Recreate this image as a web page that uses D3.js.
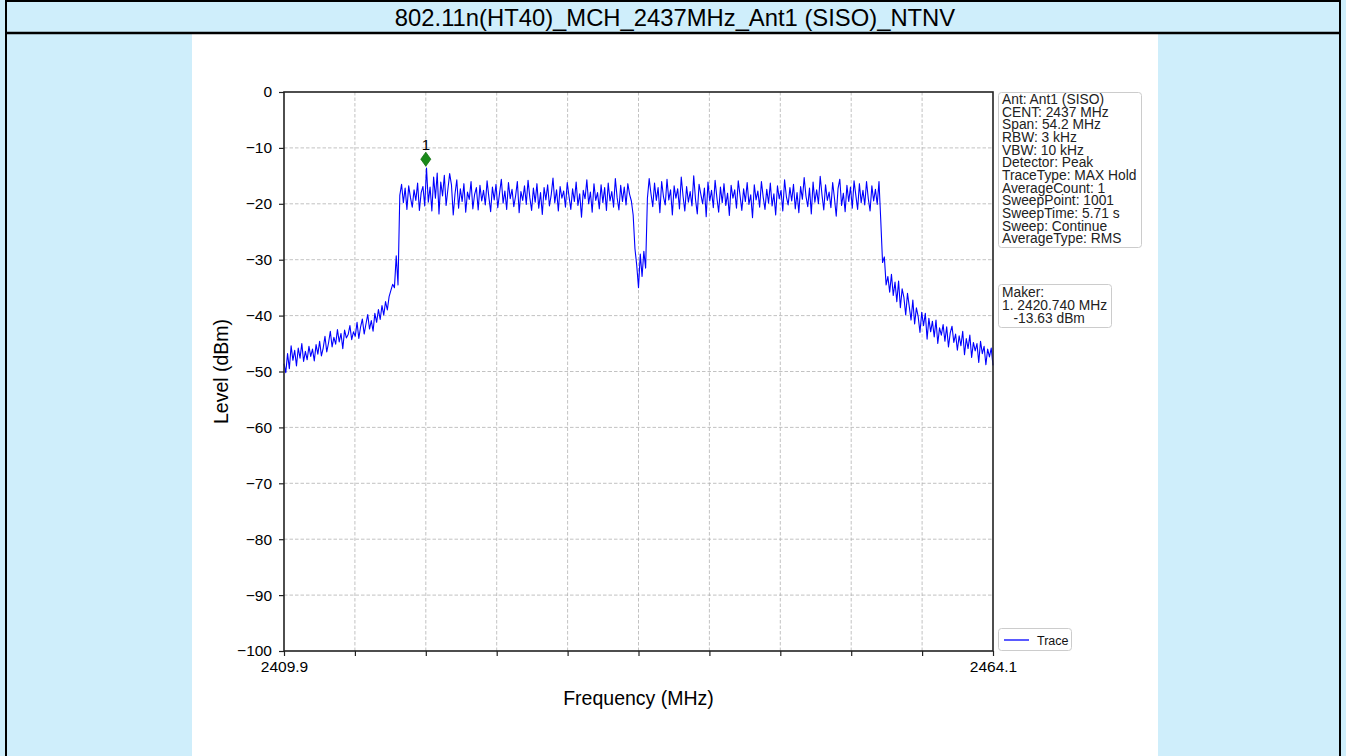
<!DOCTYPE html>
<html>
<head>
<meta charset="utf-8">
<script src="https://cdn.jsdelivr.net/npm/d3@7"></script>
<style>
  html, body { margin: 0; padding: 0; background: #cfeefb; }
  svg { display: block; }
  text { font-family: "Liberation Sans", Arial, sans-serif; }
</style>
</head>
<body>
<svg id="chart" width="1346" height="756"></svg>
<script>
// ---------- data ----------
const chartTitle = "802.11n(HT40)_MCH_2437MHz_Ant1 (SISO)_NTNV";
const freqStart = 2409.9;
const freqStop = 2464.1;
const xTickLabels = ["2409.9", "", "", "", "", "", "", "", "", "", "2464.1"];
const yTicks = [-100, -90, -80, -70, -60, -50, -40, -30, -20, -10, 0];
const infoLines = [
  "Ant: Ant1 (SISO)", "CENT: 2437 MHz", "Span: 54.2 MHz", "RBW: 3 kHz",
  "VBW: 10 kHz", "Detector: Peak", "TraceType: MAX Hold", "AverageCount: 1",
  "SweepPoint: 1001", "SweepTime: 5.71 s", "Sweep: Continue", "AverageType: RMS"
];
const markerLines = ["Maker:", "1. 2420.740 MHz", "   -13.63 dBm"];
const markerFreq = [2420.740];
const markerLevel = [-13.63];
const markerNames = ["1"];
const seriesName = "Trace";
// trace levels (dBm), evenly spaced across the sweep span
const traceLevels = [
  // left skirt
  -48.6, -50.2, -46.8, -49.5, -45.4, -48.0, -46.2, -49.0, -45.8, -47.6, -45.0, -48.2, -46.4, -47.9, -45.5, -47.3, -46.0, -48.1, -45.2, -46.9,
  -44.6, -47.2, -45.8, -43.7, -46.5, -44.9, -42.8, -45.6, -43.9, -45.1, -42.5, -44.7, -43.2, -45.9, -42.6, -44.0, -43.4, -41.8, -44.3, -42.9,
  -43.7, -41.2, -44.1, -42.0, -40.6, -43.3, -41.5, -39.8, -42.4, -40.9, -42.8, -39.6, -41.2, -38.9, -40.7, -38.2, -39.9, -37.5, -39.0, -36.6, -35.5, -34.4,
  -35.0, -29.3, -34.5,
  // left in-band
  -18.5, -16.5, -19.8, -17.2, -21.0, -16.8, -18.9, -20.6, -17.5, -19.4, -16.3, -21.2, -18.0, -16.9, -20.4,
  -13.6,
  -19.7, -17.0, -21.3, -15.2, -19.0, -14.5, -21.8, -16.1, -18.6, -14.9, -20.3, -17.4, -14.6, -16.6, -22.0, -18.2, -15.7, -20.8, -17.3,
  -19.6, -16.4, -21.5, -17.9, -19.2, -16.0, -20.9, -18.3, -17.1, -21.1, -16.7, -19.5, -17.6, -20.2, -15.9, -18.8, -21.4, -17.0, -19.3, -16.5,
  -20.7, -18.1, -15.6, -19.9, -17.7, -21.0, -16.2, -19.1, -17.4, -20.5, -18.6, -16.0, -21.6, -17.8, -19.4, -16.8, -20.1, -15.8, -18.9, -21.2,
  -17.2, -19.7, -16.4, -20.8, -18.0, -21.9, -17.1, -19.3, -16.6, -20.4, -18.4, -15.4, -19.8, -17.5, -21.3, -16.9, -19.0, -17.7, -20.6, -16.2,
  -18.7, -21.0, -17.3, -19.6, -16.1, -20.3, -18.2, -22.4, -17.6, -19.1, -15.7, -20.0, -17.9, -21.5, -16.4, -19.4, -18.0, -20.9, -16.6, -19.8,
  -17.1, -21.2, -16.3, -19.5, -17.8, -20.6, -15.5, -18.9, -21.1, -16.7, -19.6, -17.0, -20.2, -16.4, -18.3, -19.5,
  // centre dip
  -22.0, -28.0, -31.0, -35.0, -29.0, -33.0, -28.5, -31.5,
  // right in-band
  -19.0, -15.5,
  -18.2, -20.5, -16.3, -19.4, -17.1, -21.6, -16.0, -18.7, -20.2, -15.6, -19.3, -17.5, -22.0, -16.8, -19.0, -17.3, -20.9, -15.2, -18.6, -21.3,
  -16.9, -19.7, -17.8, -20.4, -15.0, -19.2, -21.8, -16.5, -18.3, -20.0, -17.2, -22.3, -16.1, -19.5, -17.6, -20.7, -15.8, -18.9, -21.5, -17.0,
  -19.8, -16.4, -20.3, -18.1, -22.1, -16.7, -19.0, -17.5, -20.8, -15.9, -18.5, -21.2, -17.3, -19.6, -16.2, -20.1, -18.4, -22.5, -16.6, -19.3,
  -17.7, -20.6, -16.0, -18.8, -21.0, -17.4, -19.9, -16.3, -20.4, -18.2, -22.0, -16.8, -19.1, -17.6, -21.3, -15.7, -18.7, -20.2, -17.1, -19.5,
  -16.5, -20.9, -18.0, -21.6, -16.9, -19.2, -15.3, -18.6, -20.5, -17.2, -21.8, -16.1, -19.7, -17.5, -20.0, -15.1, -18.4, -21.1, -16.6, -19.4,
  -17.9, -20.7, -16.2, -19.0, -22.2, -17.3, -15.6, -20.3, -18.1, -21.4, -16.7, -19.6, -17.0, -20.8, -15.9, -18.5, -21.0, -16.4, -19.8, -17.6,
  -20.2, -16.0, -19.1, -21.3, -16.8, -19.5, -17.4, -20.1,
  // right edge
  -16.0, -23.0, -30.5, -29.5, -34.5,
  // right skirt
  -33.0, -35.8, -32.6, -36.4, -34.0, -37.5, -33.8, -38.6, -35.2, -36.8, -39.9, -36.0, -38.4, -40.8, -37.2, -41.5, -38.6, -40.2, -43.0, -39.4,
  -41.8, -39.6, -44.2, -40.5, -42.9, -41.0, -43.8, -40.8, -45.0, -42.2, -43.5, -41.6, -44.6, -42.0, -45.6, -43.1, -41.9, -44.8, -43.3, -46.2,
  -43.6, -45.4, -42.8, -47.0, -44.1, -45.9, -43.5, -47.5, -44.8, -46.3, -45.0, -48.4, -44.6, -46.8, -45.5, -48.8, -46.0, -47.4, -45.8, -48.9
];

// ---------- drawing ----------
const svg = d3.select("#chart");
const W = 1346, H = 756;

// page frame
svg.append("rect").attr("x", 192).attr("y", 34).attr("width", 966).attr("height", H - 34).attr("fill", "#ffffff");
svg.append("rect").attr("x", 6).attr("y", 1).attr("width", 1334).attr("height", H + 10)
  .attr("fill", "none").attr("stroke", "#000").attr("stroke-width", 2);
svg.append("line").attr("x1", 6).attr("x2", 1340).attr("y1", 33).attr("y2", 33)
  .attr("stroke", "#000").attr("stroke-width", 2.5);
svg.append("text").attr("x", 675).attr("y", 25.5).attr("text-anchor", "middle")
  .attr("font-size", 23.8).attr("fill", "#000").text(chartTitle);

const margin = { left: 284, right: 993, top: 92, bottom: 651 };
const x = d3.scaleLinear().domain([freqStart, freqStop]).range([margin.left, margin.right]);
const y = d3.scaleLinear().domain([-100, 0]).range([margin.bottom, margin.top]);

const nTicks = xTickLabels.length;
const xTickVals = xTickLabels.map((_, i) => freqStart + i * (freqStop - freqStart) / (nTicks - 1));

// grid
const grid = svg.append("g");
grid.selectAll("line.gx").data(xTickVals.slice(1, -1)).join("line")
  .attr("x1", d => x(d)).attr("x2", d => x(d)).attr("y1", margin.top).attr("y2", margin.bottom)
  .attr("stroke", "#b3b3b3").attr("stroke-width", 0.8).attr("stroke-dasharray", "3.5,2");
grid.selectAll("line.gy").data(yTicks.slice(1, -1)).join("line")
  .attr("y1", d => y(d)).attr("y2", d => y(d)).attr("x1", margin.left).attr("x2", margin.right)
  .attr("stroke", "#b3b3b3").attr("stroke-width", 0.8).attr("stroke-dasharray", "3.5,2");

// trace
const n = traceLevels.length;
const traceData = traceLevels.map((v, i) => ({ f: freqStart + i * (freqStop - freqStart) / (n - 1), v }));
const line = d3.line().x(d => x(d.f)).y(d => y(d.v));
svg.append("path").datum(traceData).attr("d", line)
  .attr("fill", "none").attr("stroke", "#0000ff").attr("stroke-width", 1.1).attr("stroke-linejoin", "round");

// axes
const xAxis = d3.axisBottom(x).tickValues(xTickVals).tickSize(5).tickPadding(5)
  .tickFormat((d, i) => xTickLabels[i]);
const gx = svg.append("g").attr("transform", `translate(0,${margin.bottom})`).call(xAxis);
const yAxis = d3.axisLeft(y).tickValues(yTicks).tickSize(5).tickPadding(7)
  .tickFormat(d => d < 0 ? "\u2212" + Math.abs(d) : String(d));
const gy = svg.append("g").attr("transform", `translate(${margin.left},0)`).call(yAxis);
[gx, gy].forEach(g => {
  g.select(".domain").remove();
  g.selectAll(".tick line").attr("stroke", "#222").attr("stroke-width", 1.2);
  g.selectAll(".tick text").attr("fill", "#000").attr("font-size", 15.5)
    .attr("font-family", "'Liberation Sans', Arial, sans-serif");
});
// spines
svg.append("rect").attr("x", margin.left).attr("y", margin.top)
  .attr("width", margin.right - margin.left).attr("height", margin.bottom - margin.top)
  .attr("fill", "none").attr("stroke", "#222").attr("stroke-width", 1.6);

// axis labels
svg.append("text").attr("x", (margin.left + margin.right) / 2).attr("y", 705)
  .attr("text-anchor", "middle").attr("font-size", 19.5).text("Frequency (MHz)");
svg.append("text").attr("transform", `translate(228,${(margin.top + margin.bottom) / 2}) rotate(-90)`)
  .attr("text-anchor", "middle").attr("font-size", 19.5).text("Level (dBm)");

// marker
const mk = svg.append("g");
markerFreq.forEach((f, i) => {
  const mx = x(f), my = y(markerLevel[i]) - 9;
  mk.append("path").attr("d", `M${mx},${my - 7}L${mx + 5},${my}L${mx},${my + 7}L${mx - 5},${my}Z`)
    .attr("fill", "#1a8a1a").attr("stroke", "#107010").attr("stroke-width", 0.8);
  mk.append("text").attr("x", mx).attr("y", my - 9).attr("text-anchor", "middle")
    .attr("font-size", 15).text(markerNames[i]);
});

// info box
function textBox(lines, bx, by, bw, bh, base, step, fs) {
  const g = svg.append("g");
  g.append("rect").attr("x", bx).attr("y", by).attr("width", bw).attr("height", bh)
    .attr("rx", 3).attr("fill", "#fff").attr("stroke", "#cccccc").attr("stroke-width", 1);
  g.selectAll("text").data(lines).join("text")
    .attr("x", bx + 3.5).attr("y", (d, i) => base + i * step)
    .attr("font-size", fs).attr("fill", "#222").style("white-space", "pre").text(d => d);
}
textBox(infoLines, 998.5, 92.5, 143, 155, 104, 12.65, 13.8);
textBox(markerLines, 998.5, 284.5, 113, 43, 297, 13, 13.8);

// legend
const lg = svg.append("g");
lg.append("rect").attr("x", 998.5).attr("y", 628.5).attr("width", 73).attr("height", 22)
  .attr("rx", 3).attr("fill", "#fff").attr("stroke", "#cccccc");
lg.append("line").attr("x1", 1004).attr("x2", 1029).attr("y1", 640).attr("y2", 640)
  .attr("stroke", "#0000ff").attr("stroke-width", 1.3);
lg.append("text").attr("x", 1037).attr("y", 644.5).attr("font-size", 12.5).attr("fill", "#111").text(seriesName);
</script>
</body>
</html>
